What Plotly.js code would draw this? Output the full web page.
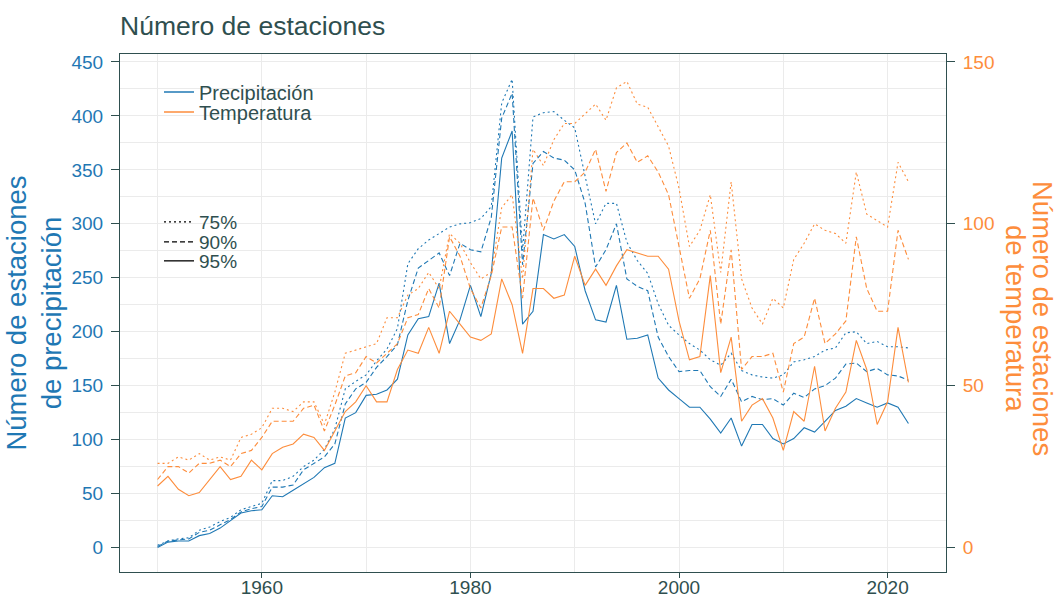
<!DOCTYPE html>
<html>
<head>
<meta charset="utf-8">
<script src="https://cdn.plot.ly/plotly-3.0.1.min.js"></script>
<style>
html,body{margin:0;padding:0;background:#ffffff;}
#chart{width:1057px;height:601px;}
</style>
</head>
<body>
<div id="chart"></div>
<script>
// ---------------- data ----------------
const years = [1950,1951,1952,1953,1954,1955,1956,1957,1958,1959,
               1960,1961,1962,1963,1964,1965,1966,1967,1968,1969,
               1970,1971,1972,1973,1974,1975,1976,1977,1978,1979,
               1980,1981,1982,1983,1984,1985,1986,1987,1988,1989,
               1990,1991,1992,1993,1994,1995,1996,1997,1998,1999,
               2000,2001,2002,2003,2004,2005,2006,2007,2008,2009,
               2010,2011,2012,2013,2014,2015,2016,2017,2018,2019,
               2020,2021,2022];

// Precipitation stations (left axis)
const prec95 = [0,5,6,6,11,13,18,25,32,34,
                35,48,47,53,59,65,74,78,120,125,
                141,142,146,156,197,212,214,245,189,211,
                243,214,254,361,386,207,219,290,286,290,
                279,238,211,209,243,193,194,197,157,146,
                138,130,130,119,106,120,94,114,114,101,
                96,101,111,107,117,127,131,138,134,130,
                134,130,115];
const prec90 = [1,6,7,8,14,16,21,26,33,36,
                38,56,56,58,72,78,84,96,133,147,
                153,167,177,188,229,259,266,273,252,282,
                276,274,306,398,421,262,356,367,361,359,
                350,319,260,276,300,249,242,238,195,177,
                163,164,164,149,140,156,135,140,137,138,
                132,143,139,147,150,157,170,171,163,166,
                160,159,155];
const prec75 = [2,6,8,9,16,19,24,28,35,38,
                41,62,62,66,75,81,91,110,147,154,
                160,173,184,203,263,277,285,291,297,300,
                301,305,316,412,434,275,399,403,404,396,
                389,344,300,319,319,283,266,254,226,206,
                197,189,183,174,169,180,164,160,158,157,
                160,172,174,177,183,185,199,200,189,191,
                186,186,185];

// Temperature stations (right axis)
const temp95 = [19,22,18,16,17,21,25,21,22,27,
                24,29,31,32,35,34,30,36,42,45,
                50,45,45,55,61,60,68,60,73,69,
                65,64,66,83,75,60,80,80,77,78,
                90,81,86,81,87,92,91,90,90,86,
                70,58,59,84,54,65,39,44,46,40,
                30,42,39,56,36,43,48,64,55,38,
                45,68,51];
const temp90 = [21,25,25,23,26,26,27,25,29,30,
                34,39,39,39,43,44,36,44,53,54,
                59,57,60,63,71,72,80,74,96,90,
                80,74,84,99,99,77,108,98,107,113,
                113,116,123,110,122,125,119,121,116,109,
                93,77,83,98,69,92,55,59,59,60,
                48,63,65,77,63,66,70,96,80,73,
                73,98,89];
const temp75 = [26,26,28,27,29,27,28,27,34,35,
                37,43,43,42,45,45,38,48,60,61,
                62,63,71,71,78,80,85,80,97,94,
                88,83,85,105,109,83,123,118,126,131,
                131,134,137,132,142,144,137,136,130,124,
                111,93,98,109,85,113,83,74,69,77,
                74,89,94,100,98,97,94,116,103,101,
                99,119,113];

const xTicks = [1960,1980,2000,2020];
const yTicksLeft = [0,50,100,150,200,250,300,350,400,450];
const yTicksRight = [0,50,100,150];

const seriesNames = ['Precipitación','Temperatura'];
const thresholdNames = ['75%','90%','95%'];
const rightTitleLines = ['Número de estaciones','de temperatura'];

// ---------------- styles ----------------
const BLUE = '#1F78B4';
const ORANGE = '#FD8D3C';
const SLATE = '#2F4F4F';
const FONT = 'Liberation Sans, Arial, Helvetica, sans-serif';
const LW = 1.1;
const DOT = '2px,3px';
const DASH = '5px,3px';
const dashFor = {'75%': DOT, '90%': DASH, '95%': 'solid'};

function line(x, y, color, dash, axis) {
  return {x: x, y: y, type: 'scatter', mode: 'lines', yaxis: axis,
          line: {color: color, width: LW, dash: dash},
          showlegend: false, hoverinfo: 'x+y'};
}

const traces = [
  line(years, temp75, ORANGE, DOT, 'y2'),
  line(years, temp90, ORANGE, DASH, 'y2'),
  line(years, temp95, ORANGE, 'solid', 'y2'),
  line(years, prec75, BLUE, DOT, 'y'),
  line(years, prec90, BLUE, DASH, 'y'),
  line(years, prec95, BLUE, 'solid', 'y')
];

// legend-only entries
const legendIds = ['legend','legend2','legend3','legend4','legend5'];
traces.push({x:[null], y:[null], type:'scatter', mode:'lines', name: seriesNames[0],
  line:{color:BLUE, width:1.6}, legend:'legend', showlegend:true, hoverinfo:'skip'});
traces.push({x:[null], y:[null], type:'scatter', mode:'lines', name: seriesNames[1],
  line:{color:ORANGE, width:1.6}, legend:'legend2', showlegend:true, hoverinfo:'skip'});
thresholdNames.forEach(function(n, i){
  traces.push({x:[null], y:[null], type:'scatter', mode:'lines', name: n,
    line:{color:'#000000', width:1.3, dash: dashFor[n]}, legend: legendIds[2+i],
    showlegend:true, hoverinfo:'skip'});
});

// geometry
const L = 120, R = 111, T = 54, B = 29;
const W = 1057, H = 601;
const pw = W - L - R, ph = H - T - B;
function px2x(p){ return (p - L) / pw; }
function px2y(p){ return (H - B - p) / ph; }

const yLeftRange = [-22.7, 457.4];
const yRightRange = [yLeftRange[0]/3, yLeftRange[1]/3];

function legendAt(px, py, size) {
  return {x: px2x(px - 40), xanchor:'left', y: px2y(py), yanchor:'middle',
          bgcolor:'rgba(0,0,0,0)', borderwidth:0,
          font:{family:FONT, size:size, color:SLATE}};
}

const rightTitleX = [1043, 1016];
const annotations = rightTitleLines.map(function(t, i){
  return {text:t, textangle:90, xref:'paper', yref:'paper',
          x: px2x(rightTitleX[i]), y: px2y(318),
          xanchor:'center', yanchor:'middle', showarrow:false, align:'center',
          font:{family:FONT, size:27.5, color:ORANGE}};
});

const layout = {
  width: W, height: H,
  margin: {l:L, r:R, t:T, b:B, pad:0},
  paper_bgcolor:'#ffffff', plot_bgcolor:'#ffffff',
  font:{family:FONT, color:SLATE},
  title:{text:'Número de estaciones', xref:'paper', x:0, xanchor:'left',
         yref:'container', y: 1 - 26/H, yanchor:'middle',
         font:{family:FONT, size:26.5, color:SLATE}},
  xaxis:{range:[1946.4, 2025.6], tickvals:xTicks, ticktext:xTicks.map(String),
         showgrid:true, gridcolor:'#EBEBEB', gridwidth:1,
         minor:{dtick:10, tick0:1950, showgrid:true, gridcolor:'#EBEBEB', gridwidth:1},
         zeroline:false, showline:true, linecolor:SLATE, linewidth:1, mirror:true,
         ticks:'outside', ticklen:5, tickcolor:SLATE, tickwidth:1,
         tickfont:{family:FONT, size:19, color:SLATE}, ticklabelstandoff:-7},
  yaxis:{range:yLeftRange, tickvals:yTicksLeft, ticktext:yTicksLeft.map(String),
         showgrid:true, gridcolor:'#EBEBEB', gridwidth:1,
         minor:{dtick:25, tick0:0, showgrid:true, gridcolor:'#EBEBEB', gridwidth:1},
         zeroline:false, showline:true, linecolor:SLATE, linewidth:1, mirror:true,
         ticks:'outside', ticklen:8, tickcolor:SLATE, tickwidth:1,
         tickfont:{family:FONT, size:19, color:BLUE}, ticklabelstandoff:4,
         title:{text:'Número de estaciones<br>de precipitación',
                font:{family:FONT, size:27.5, color:BLUE}, standoff:1}},
  yaxis2:{range:yRightRange, tickvals:yTicksRight, ticktext:yTicksRight.map(String),
          overlaying:'y', side:'right', showgrid:false, zeroline:false, showline:false,
          ticks:'outside', ticklen:8, tickcolor:SLATE, tickwidth:1,
          tickfont:{family:FONT, size:19, color:ORANGE}, ticklabelstandoff:4},
  legend: legendAt(199, 92, 20),
  legend2: legendAt(199, 112, 20),
  legend3: legendAt(199, 222, 19),
  legend4: legendAt(199, 242, 19),
  legend5: legendAt(199, 261, 19),
  annotations: annotations,
  showlegend:true
};

Plotly.newPlot('chart', traces, layout, {displayModeBar:false, staticPlot:true});
</script>
</body>
</html>
